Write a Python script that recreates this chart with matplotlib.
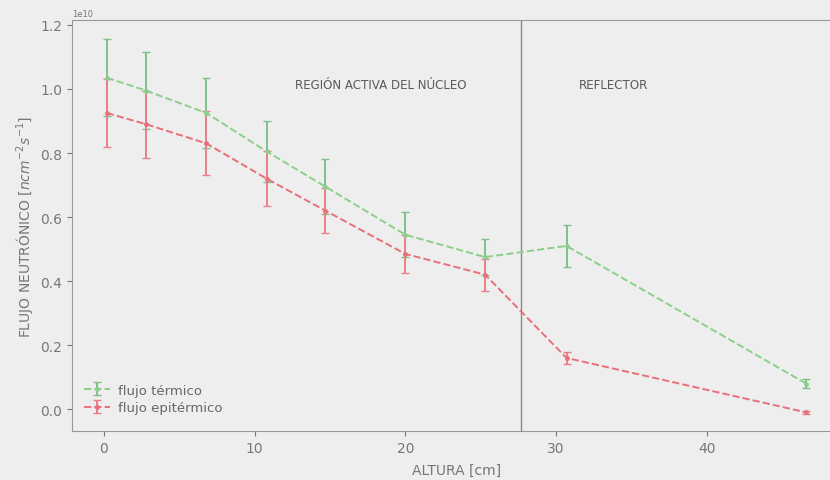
import matplotlib.pyplot as plt

# Alturas de medicion [cm]
altura = [0.2, 2.8, 6.8, 10.8, 14.7, 20.0, 25.3, 30.7, 46.6]

# Flujo termico y epitermico (en unidades de 1e10 n cm^-2 s^-1)
flujo_termico = [1.035, 0.995, 0.925, 0.805, 0.695, 0.545, 0.475, 0.51, 0.08]
err_termico = [0.12, 0.12, 0.11, 0.095, 0.085, 0.07, 0.055, 0.065, 0.015]
flujo_epitermico = [0.925, 0.89, 0.83, 0.72, 0.62, 0.485, 0.42, 0.16, -0.01]
err_epitermico = [0.105, 0.105, 0.10, 0.085, 0.07, 0.06, 0.05, 0.018, 0.005]

limite_nucleo = 27.7
escala = 1e10

bg = '#eeeeee'
fig = plt.figure(figsize=(8.3, 4.81), dpi=100, facecolor=bg)
ax = fig.add_axes([0.087, 0.102, 0.926, 0.854], facecolor=bg)

ax.errorbar(altura, [v * escala for v in flujo_termico],
            yerr=[e * escala for e in err_termico],
            fmt='--', marker='.', markersize=5, capsize=3,
            color='#8ccf8c', ecolor='#7fc08a', lw=1.4, label='flujo térmico')
ax.errorbar(altura, [v * escala for v in flujo_epitermico],
            yerr=[e * escala for e in err_epitermico],
            fmt='--', marker='.', markersize=5, capsize=3,
            color='#e8707a', ecolor='#ea7f88', lw=1.4, label='flujo epitérmico')

ax.axvline(limite_nucleo, color='#888888', lw=1)

ax.text(18.4, 1.015 * escala, 'REGIÓN ACTIVA DEL NÚCLEO', ha='center', va='center',
        fontsize=8.6, color='#5a5a5a')
ax.text(33.8, 1.015 * escala, 'REFLECTOR', ha='center', va='center',
        fontsize=8.6, color='#5a5a5a')

ax.set_xlim(-2.1, 48.9)
ax.set_ylim(-0.068 * escala, 1.215 * escala)
ax.set_xticks([0, 10, 20, 30, 40])
ax.set_yticks([0.0, 0.2e10, 0.4e10, 0.6e10, 0.8e10, 1.0e10, 1.2e10])

ax.set_xlabel('ALTURA [cm]', color='#777777', fontsize=10, labelpad=6)
ax.set_ylabel(r'FLUJO NEUTRÓNICO [$ncm^{-2}s^{-1}$]', color='#777777', fontsize=10)
ax.tick_params(colors='#777777', labelsize=10)
ax.yaxis.get_offset_text().set_color('#777777')
ax.yaxis.get_offset_text().set_fontsize(6)
for s in ax.spines.values():
    s.set_color('#999999')

leg = ax.legend(loc='lower left', bbox_to_anchor=(0.0, 0.012), frameon=False,
                fontsize=9.5, labelcolor='#666666', handletextpad=0.6,
                labelspacing=0.35)

fig.savefig('out.png', dpi=100, facecolor=bg)
